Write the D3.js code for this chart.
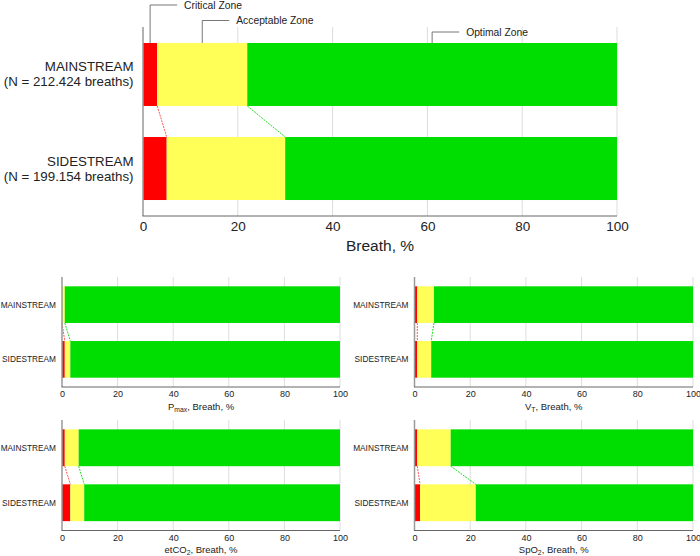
<!DOCTYPE html><html><head><meta charset="utf-8">
<script src="https://cdn.jsdelivr.net/npm/d3@7"></script>
<style>body{margin:0;background:#fff}svg{display:block;font-family:"Liberation Sans",Arial,Helvetica,sans-serif}</style>
</head><body><svg id="c" width="700" height="556"></svg>
<script>
const categories = ["MAINSTREAM", "SIDESTREAM"];
const mainCounts = ["(N = 212.424 breaths)", "(N = 199.154 breaths)"];
const zoneNames = ["Critical Zone", "Acceptable Zone", "Optimal Zone"];
const tickValues = [0, 20, 40, 60, 80, 100];

const mainCritical = [3, 5], mainAcceptable = [19, 25], mainOptimal = [78, 70];
const pmaxCritical = [0, 1], pmaxAcceptable = [1, 2], pmaxOptimal = [99, 97];
const vtCritical = [1, 1], vtAcceptable = [6, 5], vtOptimal = [93, 94];
const etco2Critical = [1, 3], etco2Acceptable = [5, 5], etco2Optimal = [94, 92];
const spo2Critical = [1, 2], spo2Acceptable = [12, 20], spo2Optimal = [87, 78];

const mainTitle = [["Breath, %", ""]];
const pmaxTitle = [["P", ""], ["max", "sub"], [", Breath, %", ""]];
const vtTitle = [["V", ""], ["T", "sub"], [", Breath, %", ""]];
const etco2Title = [["etCO", ""], ["2", "sub"], [", Breath, %", ""]];
const spo2Title = [["SpO", ""], ["2", "sub"], [", Breath, %", ""]];

const colors = ["#ff0000", "#ffff57", "#00dd00"];
const connColors = ["#ff5555", "#22dd22"];
const svg = d3.select("#c");

function panel(o) {
  const rows = categories.map((c, i) => ({cat: c, critical: o.crit[i], acceptable: o.acc[i], optimal: o.opt[i]}));
  const stack = d3.stack().keys(["critical", "acceptable", "optimal"])(rows);
  const x = d3.scaleLinear().domain([0, 100]).range([o.x0, o.x1]);
  const y = d3.scaleBand().domain(categories).range([o.y0, o.y1]).paddingInner(0.33).paddingOuter(0.17);
  const g = svg.append("g");
  g.selectAll("line.grid").data(tickValues.slice(1)).join("line")
    .attr("x1", d => x(d)).attr("x2", d => x(d)).attr("y1", o.y0).attr("y2", o.y1)
    .attr("stroke", "#dddddd").attr("stroke-width", 1);
  stack.forEach((s, k) => {
    g.selectAll(null).data(s).join("rect")
      .attr("x", d => x(d[0])).attr("width", d => Math.max(0, x(d[1]) - x(d[0])))
      .attr("y", d => y(d.data.cat)).attr("height", y.bandwidth())
      .attr("fill", colors[k]);
  });
  [0, 1].forEach(k => {
    const a = stack[k][0][1], b = stack[k][1][1];
    g.append("line")
      .attr("x1", x(a)).attr("y1", y(categories[0]) + y.bandwidth())
      .attr("x2", x(b)).attr("y2", y(categories[1]))
      .attr("stroke", connColors[k]).attr("stroke-width", 1).attr("stroke-dasharray", "2,1");
  });
  g.append("line").attr("x1", o.x0).attr("x2", o.x0).attr("y1", o.y0).attr("y2", o.y1)
    .attr("stroke", "#999").attr("stroke-width", 1.5);
  g.append("line").attr("x1", o.x0 - 0.5).attr("x2", o.x1).attr("y1", o.y1).attr("y2", o.y1)
    .attr("stroke", "#666").attr("stroke-width", 1);
  const ax = g.append("g").attr("transform", `translate(0,${o.y1})`)
    .call(d3.axisBottom(x).tickValues(tickValues).tickSize(0).tickPadding(o.tickPad));
  ax.select(".domain").remove();
  ax.attr("font-family", null);
  ax.selectAll("text").attr("font-size", o.tickFont).attr("fill", "#222");
  const t = g.append("text").attr("x", (o.x0 + o.x1) / 2).attr("y", o.y1 + o.titleOff)
    .attr("text-anchor", "middle").attr("font-size", o.titleFont).attr("fill", "#222");
  o.title.forEach(([s, kind]) => {
    if (kind === "sub") {
      t.append("tspan").attr("font-size", o.titleFont * 0.72).attr("dy", o.titleFont * 0.25).text(s);
    } else {
      const sp = t.append("tspan").text(s);
      if (t.selectAll("tspan").size() > 1) sp.attr("dy", -o.titleFont * 0.25);
    }
  });
  categories.forEach((c, i) => {
    const cy = y(c) + y.bandwidth() / 2;
    if (o.counts) {
      g.append("text").attr("x", o.x0 - 9.5).attr("y", cy - 3).attr("text-anchor", "end")
        .attr("font-size", o.catFont).attr("fill", "#222").text(c);
      g.append("text").attr("x", o.x0 - 9.5).attr("y", cy + 12).attr("text-anchor", "end")
        .attr("font-size", o.catFont).attr("fill", "#222").text(o.counts[i]);
    } else {
      g.append("text").attr("x", o.x0 - 6).attr("y", cy + 3).attr("text-anchor", "end")
        .attr("font-size", o.catFont).attr("fill", "#222").text(c);
    }
  });
  return {x, y, stack, g};
}

const main = panel({x0: 143, x1: 617, y0: 27, y1: 216, crit: mainCritical, acc: mainAcceptable, opt: mainOptimal,
  tickFont: 13.5, tickPad: 5, titleFont: 15.5, titleOff: 35, catFont: 13.3, counts: mainCounts, title: mainTitle});

const annY = [5, 20.5, 32];
zoneNames.forEach((z, k) => {
  const seg = main.stack[k][0];
  const mx = main.x((seg[0] + seg[1]) / 2);
  const top = main.y(categories[0]);
  main.g.append("path")
    .attr("d", `M${mx},${top}V${annY[k]}H${mx + 27}`)
    .attr("fill", "none").attr("stroke", "#777").attr("stroke-width", 1);
  main.g.append("text").attr("x", mx + 34).attr("y", annY[k] + 3.6)
    .attr("font-size", 10.3).attr("fill", "#222").text(z);
});

const small = {tickFont: 9, tickPad: 4, titleFont: 9.5, titleOff: 22.5, catFont: 8.3};
panel(Object.assign({x0: 62, x1: 340, y0: 277, y1: 387, crit: pmaxCritical, acc: pmaxAcceptable, opt: pmaxOptimal, title: pmaxTitle}, small));
panel(Object.assign({x0: 414.5, x1: 693, y0: 277, y1: 387, crit: vtCritical, acc: vtAcceptable, opt: vtOptimal, title: vtTitle}, small));
panel(Object.assign({x0: 62, x1: 340, y0: 420, y1: 530.5, crit: etco2Critical, acc: etco2Acceptable, opt: etco2Optimal, title: etco2Title}, small));
panel(Object.assign({x0: 414.5, x1: 693, y0: 420, y1: 530.5, crit: spo2Critical, acc: spo2Acceptable, opt: spo2Optimal, title: spo2Title}, small));
</script></body></html>
